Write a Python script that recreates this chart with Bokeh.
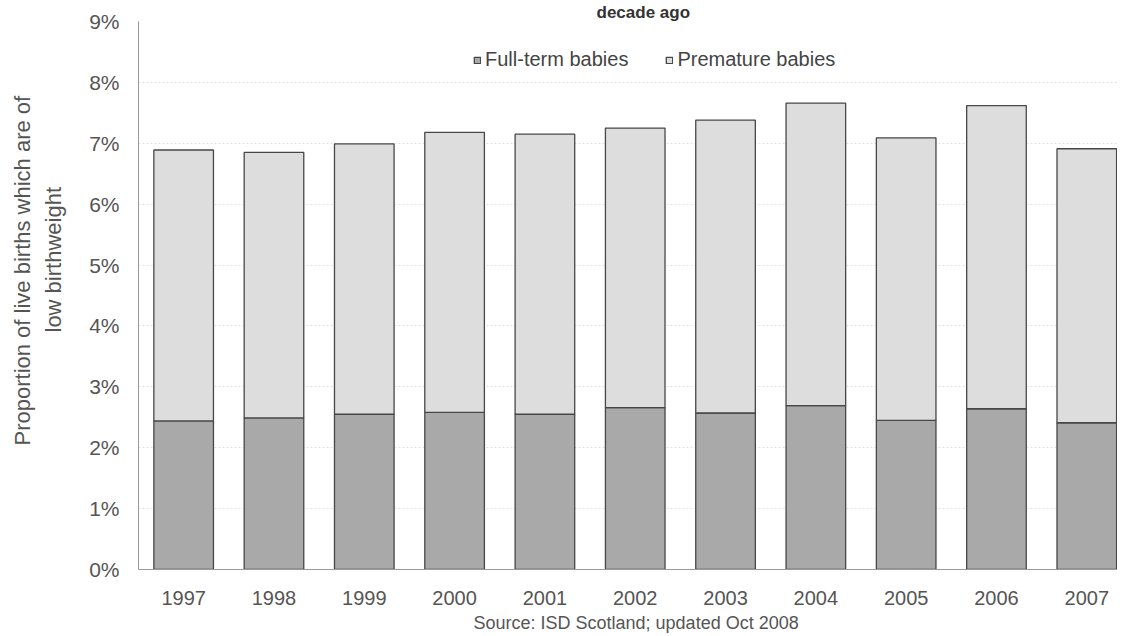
from bokeh.plotting import figure
from bokeh.models import ColumnDataSource, Range1d, FixedTicker, PrintfTickFormatter, Legend, LegendItem, Title
from bokeh.embed import file_html
from bokeh.resources import INLINE

years = ["1997", "1998", "1999", "2000", "2001", "2002", "2003", "2004", "2005", "2006", "2007"]
full_term = [2.44, 2.49, 2.55, 2.58, 2.55, 2.66, 2.57, 2.69, 2.45, 2.64, 2.41]
premature = [4.45, 4.36, 4.44, 4.60, 4.60, 4.59, 4.81, 4.97, 4.64, 4.98, 4.50]
y_ticks = [0, 1, 2, 3, 4, 5, 6, 7, 8, 9]

FONT = "Liberation Sans"
TXT = "#555555"

pos = list(range(len(years)))
src = ColumnDataSource(dict(x=pos, year=years, full=full_term, prem=premature))

p = figure(width=1117, height=636, output_backend="svg", toolbar_location=None,
           x_range=Range1d(-0.5, 10.34), y_range=Range1d(0, 9),
           min_border_left=138, min_border_right=0, min_border_top=0, min_border_bottom=66)
p.outline_line_color = None
p.background_fill_color = "white"
p.border_fill_color = "white"

# title: only its last line survives in the reference
p.title = Title(text="decade ago", align="left", offset=458, standoff=0,
                text_font=FONT, text_font_size="17px", text_font_style="bold",
                text_color="#333333")

rs = p.vbar_stack(["full", "prem"], x="x", width=0.66, source=src,
                  fill_color=["#a9a9a9", "#dddddd"], line_color="#474747", line_width=1.3)

# axes
p.xaxis.ticker = FixedTicker(ticks=pos)
p.xaxis.major_label_overrides = {i: y for i, y in zip(pos, years)}
p.xaxis.major_label_text_font = FONT
p.xaxis.major_label_text_font_size = "20px"
p.xaxis.major_label_text_color = TXT
p.xaxis.major_label_standoff = 21
p.xaxis.major_tick_out = 0
p.xaxis.major_tick_in = 0
p.xaxis.minor_tick_line_color = None
p.xaxis.axis_line_color = "#9a9a9a"

p.yaxis.ticker = FixedTicker(ticks=y_ticks)
p.yaxis.formatter = PrintfTickFormatter(format="%d%%")
p.yaxis.major_label_text_font = FONT
p.yaxis.major_label_text_font_size = "21px"
p.yaxis.major_label_text_color = TXT
p.yaxis.major_label_standoff = 19
p.yaxis.major_tick_out = 0
p.yaxis.major_tick_in = 0
p.yaxis.minor_tick_line_color = None
p.yaxis.axis_line_color = "#9a9a9a"

p.xgrid.grid_line_color = None
p.ygrid.grid_line_color = "#e2e2e2"
p.ygrid.grid_line_dash = "2 2"

legend = Legend(items=[LegendItem(label="Full-term babies", renderers=[rs[0]]),
                       LegendItem(label="Premature babies", renderers=[rs[1]])],
                orientation="horizontal", location=(335, 498),
                border_line_color=None, background_fill_alpha=0,
                label_text_font=FONT, label_text_font_size="20px", label_text_color="#444444",
                glyph_width=8, glyph_height=8, label_standoff=4, spacing=37, padding=0, margin=0)
p.add_layout(legend)

# y-axis title, two lines (added from the axis outward), both centred near y=274
p.add_layout(Title(text="low birthweight", align="left", offset=237, standoff=41,
                   text_font=FONT, text_font_size="22px", text_font_style="normal",
                   text_color=TXT), "left")
p.add_layout(Title(text="Proportion of live births which are of", align="left", offset=124,
                   standoff=-33, text_font=FONT, text_font_size="22px", text_font_style="normal",
                   text_color=TXT), "left")

# source note
p.add_layout(Title(text="Source: ISD Scotland; updated Oct 2008", align="left", offset=335,
                   standoff=7, text_font=FONT, text_font_size="18px", text_font_style="normal",
                   text_color=TXT), "below")

open("out.html", "w").write(file_html(p, INLINE))
